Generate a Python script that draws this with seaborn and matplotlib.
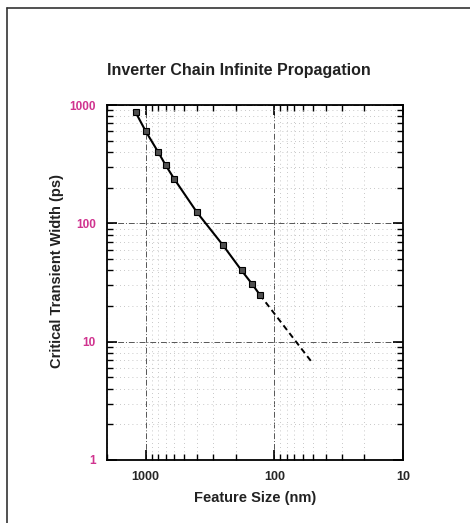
import matplotlib
matplotlib.use("Agg")
import matplotlib.pyplot as plt
import matplotlib.ticker as mticker
from matplotlib.lines import Line2D
import seaborn as sns
import pandas as pd

# Data
feature_nm = [1200, 1000, 800, 700, 600, 400, 250, 180, 150, 130]
width_ps = [870, 600, 400, 310, 237, 124, 65, 40, 31, 25]
proj_nm = [130, 50]
proj_ps = [25, 6.5]
x_ticks = [1000, 100, 10]
x_ticklabels = ["1000", "100", "10"]
y_ticks = [1, 10, 100, 1000]
y_ticklabels = ["1", "10", "100", "1000"]

title = "Inverter Chain Infinite Propagation"
xlabel = "Feature Size (nm)"
ylabel = "Critical Transient Width (ps)"

sns.set_style("ticks")
plt.rcParams["font.family"] = ["Liberation Sans", "DejaVu Sans"]

W, H = 470, 523
fig = plt.figure(figsize=(W / 100, H / 100), dpi=100)
ax = fig.add_axes([107 / W, 1 - 460 / H, (403 - 107) / W, (460 - 105) / H])

df = pd.DataFrame({"x": feature_nm, "y": width_ps})
dfp = pd.DataFrame({"x": proj_nm, "y": proj_ps})

sns.lineplot(data=dfp, x="x", y="y", ax=ax, color="black", lw=1.4,
             linestyle=(0, (3, 2)), sort=False, zorder=3)
sns.lineplot(data=df, x="x", y="y", ax=ax, color="black", lw=1.5,
             marker="s", markersize=4.5, markerfacecolor="#505050",
             markeredgecolor="black", markeredgewidth=0.8, sort=False, zorder=4)

ax.set_xscale("log")
ax.set_yscale("log")
ax.set_xlim(2000, 10)
ax.set_ylim(1, 1000)

ax.xaxis.set_major_locator(mticker.FixedLocator(x_ticks))
ax.xaxis.set_minor_locator(mticker.LogLocator(base=10, subs=range(2, 10), numticks=20))
ax.yaxis.set_major_locator(mticker.FixedLocator(y_ticks))
ax.yaxis.set_minor_locator(mticker.LogLocator(base=10, subs=range(2, 10), numticks=20))
ax.set_xticklabels(x_ticklabels)
ax.set_yticklabels(y_ticklabels)
ax.xaxis.set_minor_formatter(mticker.NullFormatter())
ax.yaxis.set_minor_formatter(mticker.NullFormatter())

ax.tick_params(which="both", direction="in", top=True, right=True, color="black")
ax.tick_params(which="major", length=7, width=1.2)
ax.tick_params(which="minor", length=4, width=1.0)
ax.tick_params(axis="x", which="major", labelsize=9, pad=8)
ax.tick_params(axis="y", which="major", labelsize=8.5, pad=8, labelcolor="#d0338f")
for lab in ax.get_xticklabels() + ax.get_yticklabels():
    lab.set_fontweight("bold")

ax.grid(True, which="major", color="#555555", lw=0.7, linestyle=(0, (6, 2, 1, 2)))
ax.grid(True, which="minor", color="#b5b5b5", lw=0.6, linestyle=(0, (1, 4)))
for s in ax.spines.values():
    s.set_linewidth(1.3)
    s.set_color("black")

ax.set_xlabel("")
ax.set_ylabel("")
fig.text(255 / W, 1 - 498 / H, xlabel, ha="center", va="center",
         fontsize=10.5, fontweight="bold", color="#222222")
fig.text(57 / W, 1 - 271 / H, ylabel, ha="center", va="center", rotation=90,
         fontsize=10.5, fontweight="bold", color="#222222")
fig.text(239 / W, 1 - 70 / H, title, ha="center", va="center",
         fontsize=11.5, fontweight="bold", color="#222222")

# outer frame of the figure (left and top edges)
fig.add_artist(Line2D([7 / W, 7 / W], [0, 1 - 8 / H], transform=fig.transFigure,
                      color="#333333", lw=1.2))
fig.add_artist(Line2D([7 / W, 1], [1 - 8 / H, 1 - 8 / H], transform=fig.transFigure,
                      color="#333333", lw=1.2))

fig.savefig("out.png", dpi=100)
